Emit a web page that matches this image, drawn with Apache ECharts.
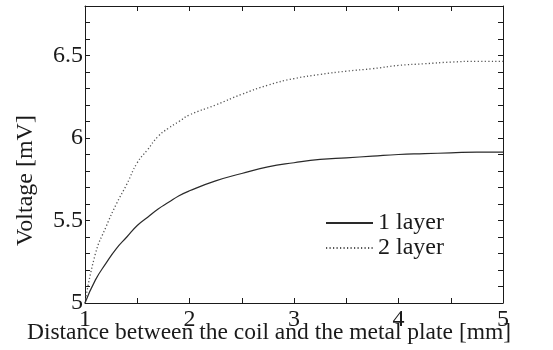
<!DOCTYPE html>
<html>
<head>
<meta charset="utf-8">
<script src="https://cdn.jsdelivr.net/npm/echarts@6/dist/echarts.min.js"></script>
<style>html,body{margin:0;padding:0;background:#fff}#c{width:553px;height:350px}</style>
</head>
<body>
<div id="c"></div>
<script>
var distance = [1.0,1.1,1.2,1.3,1.4,1.5,1.6,1.7,1.8,1.9,2.0,2.25,2.5,2.75,3.0,3.25,3.5,3.75,4.0,4.25,4.5,4.75,5.0];
var layer1 = [5.00,5.14,5.24,5.33,5.40,5.47,5.52,5.57,5.61,5.65,5.68,5.74,5.785,5.825,5.85,5.87,5.88,5.89,5.90,5.905,5.91,5.915,5.915];
var layer2 = [5.00,5.30,5.46,5.60,5.72,5.85,5.93,6.01,6.06,6.10,6.14,6.20,6.265,6.32,6.36,6.385,6.405,6.42,6.44,6.45,6.46,6.465,6.465];
var seriesNames = ['1 layer','2 layer'];
var xTickLabels = ['1','2','3','4','5'];
var yTickLabels = ['5','5.5','6','6.5'];

function pairs(xs, ys){ return xs.map(function(x,i){ return [x, ys[i]]; }); }
var font = 'Liberation Serif';
var ink = '#1a1a1a';
var chart = echarts.init(document.getElementById('c'));
var axisLine = {show:true, lineStyle:{color:ink, width:1}};
var tickStyle = {show:true, inside:true, length:5, lineStyle:{color:ink, width:1}};
chart.setOption({
  animation:false,
  backgroundColor:'#fff',
  grid:{left:85, right:50, top:6, bottom:47},
  legend:{
    orient:'vertical', left:325, top:211, padding:0,
    itemWidth:47, itemHeight:14, itemGap:1,
    data:seriesNames,
    itemStyle:{color:'rgba(0,0,0,0)', borderColor:'rgba(0,0,0,0)', borderWidth:0, opacity:0},
    textStyle:{fontFamily:font, fontSize:24, color:ink}
  },
  xAxis:[{
    type:'value', min:1, max:5, interval:0.5, position:'bottom',
    axisLine:axisLine, axisTick:tickStyle, splitLine:{show:false},
    axisLabel:{margin:5, fontFamily:font, fontSize:24, color:ink,
      formatter:function(v){ var s = String(Math.round(v*10)/10); return xTickLabels.indexOf(s) >= 0 ? s : ''; }},
    name:'Distance between the coil and the metal plate [mm]',
    nameLocation:'middle', nameGap:18, nameMoveOverlap:false,
    nameTextStyle:{fontFamily:font, fontSize:23.5, color:ink, verticalAlign:'top', padding:[0,50,0,0]}
  },{
    type:'value', min:1, max:5, interval:0.5, position:'top',
    axisLine:axisLine, axisTick:tickStyle, axisLabel:{show:false}, splitLine:{show:false}
  }],
  yAxis:[{
    type:'value', min:5, max:6.8, interval:0.1, position:'left',
    axisLine:axisLine, axisTick:tickStyle, splitLine:{show:false},
    axisLabel:{margin:2, fontFamily:font, fontSize:24, color:ink,
      formatter:function(v){ var s = String(Math.round(v*10)/10); return yTickLabels.indexOf(s) >= 0 ? s : ''; }},
    name:'Voltage [mV]', nameLocation:'middle', nameGap:47, nameMoveOverlap:false,
    nameTextStyle:{fontFamily:font, fontSize:24, color:ink, padding:[0,52,0,0]}
  },{
    type:'value', min:5, max:6.8, interval:0.1, position:'right',
    axisLine:axisLine, axisTick:tickStyle, axisLabel:{show:false}, splitLine:{show:false}
  }],
  series:[{
    name:seriesNames[0], type:'line', smooth:true, symbol:'none',
    data:pairs(distance, layer1),
    lineStyle:{color:'#2a2a2a', width:1.2, type:'solid'},
    itemStyle:{color:'#2a2a2a'}
  },{
    name:seriesNames[1], type:'line', smooth:true, symbol:'none',
    data:pairs(distance, layer2),
    lineStyle:{color:'#555', width:1.3, type:[1.2,2.3]},
    itemStyle:{color:'#555'}
  }]
});
</script>
</body>
</html>
